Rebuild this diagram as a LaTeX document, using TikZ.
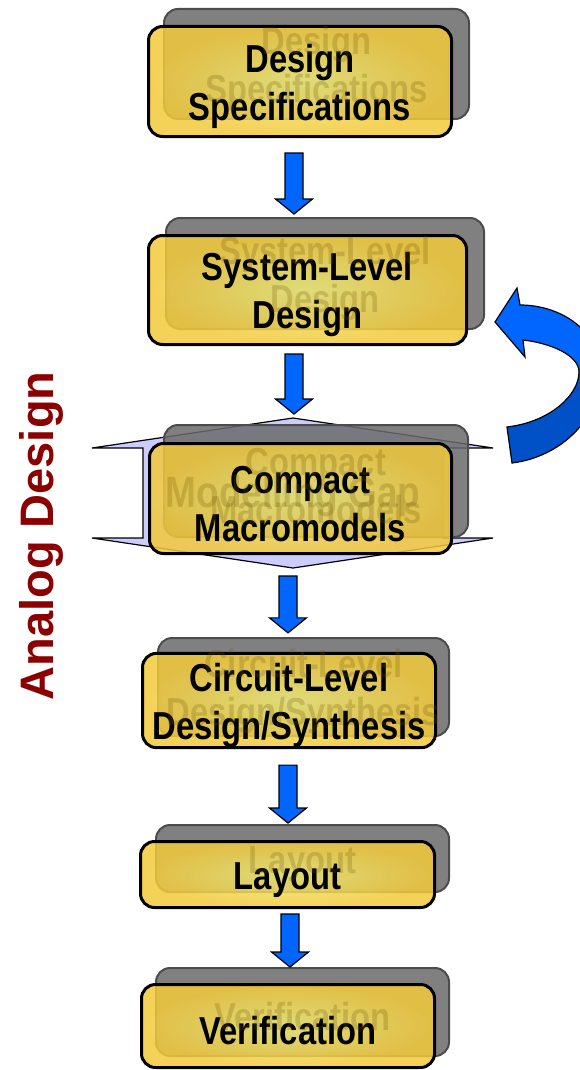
\documentclass[tikz,border=0pt]{standalone}
\usepackage{fontspec}
\usetikzlibrary{calc}
\newfontfamily\boxfont{Liberation Sans}[FakeStretch=0.84]
\newfontfamily\sidefont{Liberation Sans}
\newcommand\capstrut{\rule{0pt}{38pt}}
\definecolor{boxgold}{HTML}{F2C93A}
\definecolor{boxlight}{HTML}{F0EC78}
\definecolor{shadowgray}{HTML}{6A6A6A}
\definecolor{ghostgold}{HTML}{705400}
\definecolor{arrowblue}{HTML}{0066FF}
\definecolor{arrowdark}{HTML}{0050C8}
\definecolor{gaplilac}{HTML}{CCCCFF}
\definecolor{analogred}{HTML}{8B0000}
\begin{document}
\begin{tikzpicture}[x=1pt,y=-1pt,
    shadowbox/.style={draw=black!70, line width=2pt, fill=shadowgray, fill opacity=0.85, rounded corners=14pt, inner sep=0pt},
    frontbox/.style={draw=black, line width=3pt, rounded corners=14pt, inner color=boxlight, outer color=boxgold,
        fill opacity=0.85, text opacity=1, align=center, inner sep=0pt,
        font=\boxfont\bfseries\fontsize{39pt}{48pt}\selectfont},
    ghost/.style={text=ghostgold, text opacity=0.24, align=center, inner sep=0pt,
        font=\boxfont\bfseries\fontsize{39pt}{48pt}\selectfont},
    blockarrow/.style={draw=black, line width=1.2pt, fill=arrowblue, to path={let \p1=(\tikztostart), \p2=(\tikztotarget) in
        (\x1-9pt,\y1) -- (\x1+9pt,\y1) -- (\x1+9pt,\y2+15pt) -- (\x1+18.5pt,\y2+15pt) -- (\x1,\y2)
        -- (\x1-18.5pt,\y2+15pt) -- (\x1-9pt,\y2+15pt) -- cycle}}]
    \useasboundingbox (0,0) rectangle (579,1070);

    % modelling gap
    \draw[fill=gaplilac, line width=1.2pt] (92,448) -- (293,418) -- (493,448) -- (443,448) -- (443,538) -- (493,538)
        -- (293,568) -- (92,538) -- (143,538) -- (143,448) -- cycle;

    \node[shadowbox, minimum width=305pt, minimum height=110pt] (dss) at (316.5,64) {};
    \node[shadowbox, minimum width=318pt, minimum height=111pt] (sls) at (325,273.5) {};
    \node[shadowbox, minimum width=304pt, minimum height=112pt] (cms) at (316,481) {};
    \node[shadowbox, minimum width=291pt, minimum height=98pt] (cls) at (303.5,687) {};
    \node[shadowbox, minimum width=293pt, minimum height=67pt] (lays) at (302.5,858.5) {};
    \node[shadowbox, minimum width=293pt, minimum height=88pt] (vers) at (302.5,1012) {};

    \node[frontbox, minimum width=303pt, minimum height=110pt] (ds) at (300,81.5) {\capstrut Design\\Specifications};
    \node[frontbox, minimum width=318pt, minimum height=109pt] (sl) at (307.5,290) {\capstrut System-Level\\Design};
    \node[frontbox, minimum width=302pt, minimum height=110pt] (cm) at (300.5,498.5) {\capstrut Compact\\Macromodels};
    \node[frontbox, minimum width=293pt, minimum height=90pt] (cl) at (289,700.5) {\capstrut Circuit-Level\\Design/Synthesis};
    \node[frontbox, minimum width=294pt, minimum height=66pt] (lay) at (287.5,874.5) {\capstrut Layout};
    \node[frontbox, minimum width=293pt, minimum height=83pt] (ver) at (288,1026) {\capstrut Verification};

    \node[ghost] (dsg) at (dss) {\capstrut Design\\Specifications};
    \node[ghost] (slg) at (sls) {\capstrut System-Level\\Design};
    \node[ghost] (cmg) at (cms) {\capstrut Compact\\Macromodels};
    \node[ghost, font=\boxfont\bfseries\fontsize{44pt}{48pt}\selectfont] (gap) at (293,493) {\capstrut Modelling Gap};
    \node[ghost] (clg) at (cls) {\capstrut Circuit-Level\\Design/Synthesis};
    \node[ghost] (layg) at (lays) {\capstrut Layout};
    \node[ghost] (verg) at (vers) {\capstrut Verification};

    \draw[blockarrow] ([xshift=-6pt,yshift=-15pt]ds.south) to ([yshift=20pt]sl.north);
    \draw[blockarrow] ([xshift=-13.5pt,yshift=-8pt]sl.south) to ([yshift=28pt]cm.north);
    \draw[blockarrow] ([xshift=-12.5pt,yshift=-21pt]cm.south) to ([yshift=19pt]cl.north);
    \draw[blockarrow] ([xshift=-1pt,yshift=-16pt]cl.south) to ([yshift=17pt]lay.north);
    \draw[blockarrow] ([xshift=2.5pt,yshift=-5pt]lay.south) to ([yshift=16pt]ver.north);

    % feedback loop
    \path[save path=\feedback] (507,427) -- (512,463) .. controls (560,457) and (600,420) .. (600,372)
        .. controls (600,330) and (560,305) .. (520,305) -- (517,288) -- (495,322) -- (525,357) -- (523,340)
        .. controls (550,343) and (579,355) .. (579,372) .. controls (579,395) and (550,422) .. (507,427) -- cycle;
    \fill[arrowblue, use path=\feedback];
    \begin{scope}
        \clip (470,372) rectangle (620,480);
        \fill[arrowdark, use path=\feedback];
    \end{scope}
    \draw[line width=1.2pt, use path=\feedback];

    \node[rotate=90, anchor=base, text=analogred, font=\sidefont\bfseries\fontsize{47pt}{47pt}\selectfont] (side) at (53,536) {Analog Design};
\end{tikzpicture}
\end{document}
